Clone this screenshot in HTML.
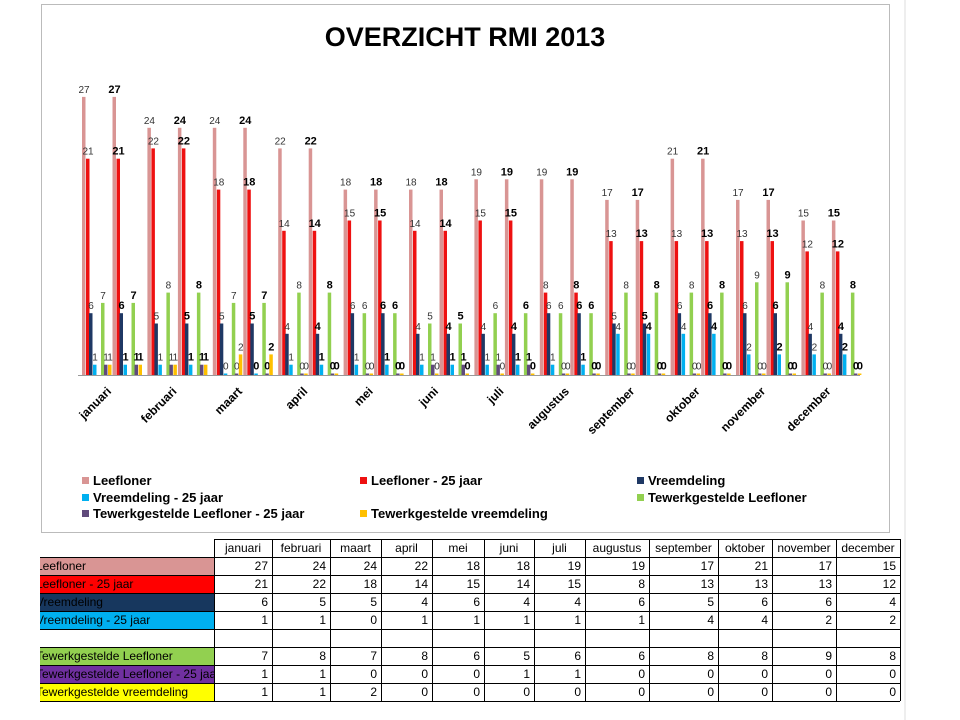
<!DOCTYPE html>
<html><head><meta charset="utf-8"><style>
body{margin:0;background:#fff;width:960px;height:720px;overflow:hidden;font-family:"Liberation Sans",sans-serif}
svg{position:absolute;left:0;top:0}
</style></head><body>
<svg id="s" width="960" height="720" xmlns="http://www.w3.org/2000/svg">
<rect x="41.5" y="4.5" width="848" height="528" fill="#fff" stroke="#bbb"/>
<line x1="905" y1="0" x2="905" y2="720" stroke="#ddd"/>
<text x="465" y="46" text-anchor="middle" font-size="27" font-weight="bold" fill="#000">OVERZICHT RMI 2013</text>
<line x1="78" y1="375.5" x2="860" y2="375.5" stroke="#999"/>
</svg>
<script>
const months=["januari","februari","maart","april","mei","juni","juli","augustus","september","oktober","november","december"];
const data=[
[27,24,24,22,18,18,19,19,17,21,17,15],
[21,22,18,14,15,14,15,8,13,13,13,12],
[6,5,5,4,6,4,4,6,5,6,6,4],
[1,1,0,1,1,1,1,1,4,4,2,2],
[7,8,7,8,6,5,6,6,8,8,9,8],
[1,1,0,0,0,1,1,0,0,0,0,0],
[1,1,2,0,0,0,0,0,0,0,0,0]];
const cols=["#d99594","#ee1111","#1f3864","#00b0f0","#92d050","#604a7b","#ffc000"];
const off=[0,4,7,11,19,22,26];
const s=document.getElementById('s');let h='';
const base=375,sc=10.3;
for(let m=0;m<12;m++){
 for(let c=0;c<2;c++){
  const x0=82+m*65.4+c*30.5;
  for(let k=0;k<7;k++){
   const v=data[k][m];const x=x0+off[k];const ht=Math.max(v*sc,1.5);
   h+=`<rect x="${x}" y="${base-ht}" width="3.5" height="${ht}" fill="${cols[k]}"/>`;
   h+=`<text x="${x+2}" y="${base-ht-4}" text-anchor="middle" font-size="${c?11:10}" ${c?'font-weight="bold" fill="#000"':'fill="#333"'}>${v}</text>`;
  }
 }
 const lx=82+m*65.4+30;
 h+=`<text transform="translate(${lx},392) rotate(-45)" text-anchor="end" font-size="12" font-weight="bold">${months[m]}</text>`;
}
const leg=[[82,484,0,"Leefloner"],[360,484,1,"Leefloner - 25 jaar"],[637,484,2,"Vreemdeling"],[82,501,3,"Vreemdeling - 25 jaar"],[637,501,4,"Tewerkgestelde Leefloner"],[82,517,5,"Tewerkgestelde Leefloner - 25 jaar"],[360,517,6,"Tewerkgestelde vreemdeling"]];
for(const l of leg){h+=`<rect x="${l[0]}" y="${l[1]-7}" width="7" height="7" fill="${cols[l[2]]}"/><text x="${l[0]+11}" y="${l[1]+1}" font-size="13" font-weight="bold">${l[3]}</text>`;}
// table
const cx=[40,214,272,330,381,432,484,534,585,649,718,772,836,900];
const ry=[539,557,575,593,611,629,647,665,683,701];
const rowLab=[["Leefloner","#d99594",0],["Leefloner - 25 jaar","#ff0000",1],["Vreemdeling","#17375e",2],["Vreemdeling - 25 jaar","#00b0f0",3],null,["Tewerkgestelde Leefloner","#92d050",4],["Tewerkgestelde Leefloner - 25 jaar","#7030a0",5],["Tewerkgestelde vreemdeling","#ffff00",6]];
h+=`<clipPath id="cl"><rect x="40" y="530" width="174" height="180"/></clipPath>`;
for(let r=0;r<8;r++){const y=ry[r+1];const L=rowLab[r];
 if(L){h+=`<rect x="40" y="${y}" width="174" height="18" fill="${L[1]}"/><text clip-path="url(#cl)" x="36" y="${y+13}" font-size="12" fill="#000">${L[0]}</text>`;
  for(let m=0;m<12;m++)h+=`<text x="${cx[m+2]-4}" y="${y+13}" text-anchor="end" font-size="12">${data[L[2]][m]}</text>`;}
}
for(let m=0;m<12;m++)h+=`<text x="${(cx[m+1]+cx[m+2])/2}" y="${ry[0]+13}" text-anchor="middle" font-size="12">${months[m]}</text>`;
for(const y of ry)h+=`<line x1="${y==539?214:40}" y1="${y+.5}" x2="900" y2="${y+.5}" stroke="#000"/>`;
for(let i=1;i<cx.length;i++)h+=`<line x1="${cx[i]+.5}" y1="539" x2="${cx[i]+.5}" y2="701" stroke="#000"/>`;
s.innerHTML+=h;
</script>
</body></html>
